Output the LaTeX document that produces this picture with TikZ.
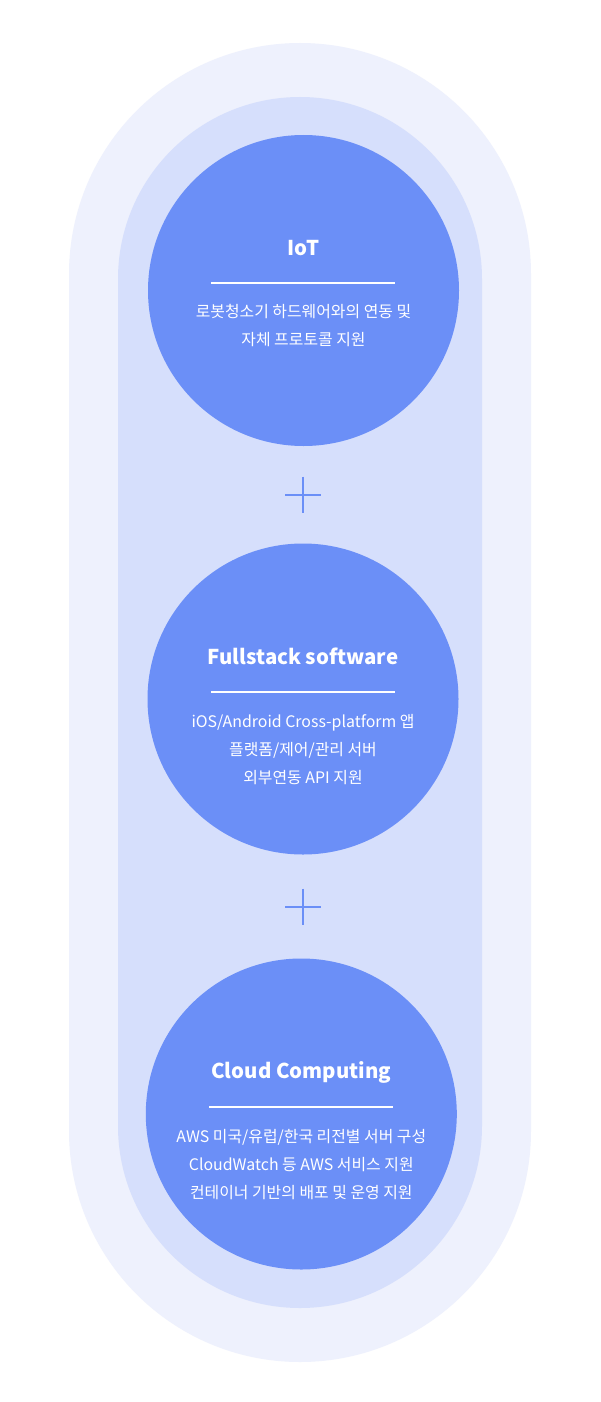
\documentclass[tikz,border=0pt]{standalone}
\usepackage{fontspec}
\setmainfont{Noto Sans CJK KR}
\usetikzlibrary{positioning,calc}

\definecolor{outerbg}{HTML}{EEF1FD}
\definecolor{innerbg}{HTML}{D6DFFC}
\definecolor{bubblec}{HTML}{6B8FF7}

\begin{document}
\begin{tikzpicture}[
    x=1pt, y=-1pt,
    bubble/.style={circle, fill=bubblec, minimum size=311pt, inner sep=0pt},
    title/.style={anchor=base, text=white, inner sep=0pt, font=\fontsize{20.4}{24}\selectfont\bfseries},
    desc/.style={anchor=base, text=white, inner sep=0pt, font=\fontsize{15.9}{19}\selectfont},
    divider/.style={fill=white, minimum width=184pt, minimum height=2pt, inner sep=0pt},
    plus/.style={draw=bubblec, line width=2pt}
]
    % Canvas
    \fill[white] (0,0) rectangle (600,1402);
    \useasboundingbox (0,0) rectangle (600,1402);

    % Background pills
    \fill[outerbg, rounded corners=231pt] (69,43) rectangle (531,1362);
    \fill[innerbg, rounded corners=182pt] (118,97) rectangle (482,1308);

    % Circles
    \node [bubble] (iot) at (303.5,290.5) {};
    \node [bubble] (full) at (303,699) {};
    \node [bubble] (cloud) at (301.3,1114) {};

    % IoT
    \node [title] (iot-title) at ($(iot)+(0,-35.5)$) {IoT};
    \node [divider] (iot-rule) at ($(iot)+(-0.5,-8)$) {};
    \foreach \txt [count=\i] in {로봇청소기 하드웨어와의 연동 및, 자체 프로토콜 지원}
        \node [desc] (iot-d\i) at ($(iot)+(0,-1.5+28*\i)$) {\txt};

    % Fullstack
    \node [title] (full-title) at ($(full)+(0,-35)$) {Fullstack software};
    \node [divider] (full-rule) at ($(full)+(0,-7.5)$) {};
    \foreach \txt [count=\i] in {iOS/Android Cross-platform 앱, 플랫폼/제어/관리 서버, 외부연동 API 지원}
        \node [desc] (full-d\i) at ($(full)+(0,28*\i)$) {\txt};

    % Cloud
    \node [title] (cloud-title) at ($(cloud)+(0,-36)$) {Cloud Computing};
    \node [divider] (cloud-rule) at ($(cloud)+(0,-7.5)$) {};
    \foreach \txt [count=\i] in {AWS 미국/유럽/한국 리전별 서버 구성, CloudWatch 등 AWS 서비스 지원, 컨테이너 기반의 배포 및 운영 지원}
        \node [desc] (cloud-d\i) at ($(cloud)+(0,28*\i)$) {\txt};

    % Plus signs
    \coordinate (plus1) at (303,494.5);
    \coordinate (plus2) at (303,906.7);
    \draw [plus] (plus1) ++(-18,0) -- ++(36,0) (plus1) ++(0,-18) -- ++(0,36);
    \draw [plus] (plus2) ++(-18,0) -- ++(36,0) (plus2) ++(0,-18) -- ++(0,36);

\end{tikzpicture}
\end{document}
